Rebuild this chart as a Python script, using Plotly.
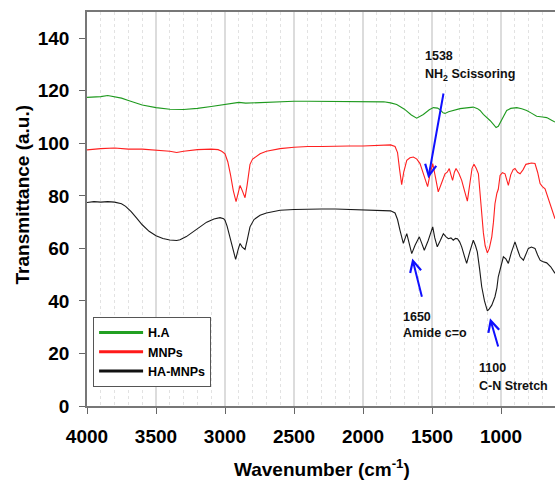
import plotly.graph_objects as go

# ---------------- data ----------------
ha_wn = [4000, 3950, 3900, 3850, 3800, 3750, 3700, 3650, 3600, 3500, 3400, 3300, 3200, 3100, 3000, 2950,
         2900, 2850, 2800, 2700, 2600, 2500, 2400, 2300, 2200, 2100, 2000, 1900, 1850, 1800, 1756, 1700,
         1650, 1611, 1563, 1520, 1490, 1460, 1442, 1420, 1406, 1380, 1357, 1330, 1297, 1250, 1201, 1170,
         1152, 1128, 1100, 1080, 1055, 1036, 1020, 1007, 985, 959, 930, 886, 850, 814, 780, 742, 700, 669,
         640, 609]
ha_t = [117.5, 117.6, 117.8, 118.2, 117.8, 117.2, 116.3, 115.4, 114.6, 113.6, 113.0, 112.9, 113.3, 114.0,
        114.8, 115.0, 115.6, 115.3, 115.4, 115.7, 115.8, 116.0, 116.0, 116.0, 116.0, 116.0, 115.9, 116.0,
        115.8, 115.4, 114.8, 113.0, 110.8, 109.6, 111.0, 112.8, 113.6, 113.4, 112.8, 111.6, 111.4, 112.0,
        112.3, 112.8, 113.2, 113.5, 113.8, 113.2, 112.5, 111.0, 109.8, 108.7, 107.2, 106.0, 106.5, 107.8,
        110.0, 112.5, 113.3, 113.6, 113.2, 112.5, 111.5, 110.3, 110.0, 109.8, 109.0, 108.1]

mnp_wn = [4000, 3950, 3900, 3800, 3700, 3600, 3500, 3400, 3350, 3300, 3200, 3100, 3050, 3024, 3000, 2980,
          2960, 2940, 2920, 2905, 2891, 2875, 2855, 2840, 2819, 2800, 2746, 2700, 2601, 2500, 2400, 2300,
          2200, 2100, 2000, 1900, 1800, 1768, 1750, 1735, 1720, 1705, 1683, 1660, 1635, 1610, 1587, 1560,
          1532, 1515, 1495, 1475, 1455, 1430, 1406, 1390, 1375, 1363, 1351, 1338, 1326, 1305, 1285, 1265,
          1244, 1225, 1210, 1196, 1180, 1164, 1152, 1140, 1128, 1115, 1099, 1085, 1067, 1055, 1044, 1030,
          1020, 1007, 990, 971, 958, 947, 930, 912, 899, 880, 862, 840, 820, 802, 780, 754, 735, 717, 700,
          681, 665, 645, 625, 609]
mnp_t = [97.5, 97.8, 98.0, 98.2, 97.8, 97.8, 97.4, 97.0, 96.5, 97.0, 97.6, 97.8, 97.6, 97.0, 96.0, 93.0,
         88.0, 82.0, 77.8, 81.0, 84.0, 82.0, 79.3, 84.0, 92.0, 94.0, 96.0, 97.0, 98.0, 98.5, 98.8, 98.8,
         99.0, 99.0, 99.0, 99.2, 99.4, 98.8, 96.5, 90.0, 84.3, 89.0, 93.5, 94.5, 94.8, 94.0, 92.3, 88.0,
         83.5, 88.0, 92.3, 87.0, 81.5, 85.0, 88.4, 89.0, 90.4, 88.0, 85.9, 89.0, 90.4, 88.5, 85.9, 82.0,
         78.0, 85.0, 90.5, 92.0, 90.5, 88.4, 80.0, 72.0, 66.0, 61.0, 58.3, 60.0, 64.4, 70.0, 77.0, 81.0,
         82.5, 87.8, 88.8, 88.4, 86.0, 84.0, 88.0, 90.0, 90.4, 89.0, 88.4, 90.0, 92.0, 92.3, 92.5, 92.3,
         89.0, 84.7, 83.5, 82.7, 80.0, 77.0, 74.0, 71.3]

hamnp_wn = [4000, 3950, 3900, 3850, 3800, 3750, 3720, 3680, 3640, 3600, 3550, 3500, 3450, 3400, 3350, 3326,
            3280, 3230, 3180, 3133, 3080, 3036, 3010, 3000, 2985, 2964, 2945, 2923, 2905, 2891, 2875, 2855,
            2840, 2819, 2790, 2746, 2700, 2601, 2500, 2400, 2300, 2200, 2100, 2000, 1900, 1800, 1768, 1750,
            1732, 1708, 1683, 1660, 1647, 1623, 1592, 1575, 1556, 1527, 1510, 1495, 1480, 1462, 1440, 1418,
            1400, 1382, 1363, 1346, 1330, 1316, 1300, 1285, 1265, 1249, 1225, 1201, 1185, 1172, 1155, 1140,
            1120, 1099, 1085, 1067, 1044, 1030, 1020, 1000, 983, 965, 947, 925, 899, 880, 862, 838, 820, 802,
            780, 754, 735, 717, 700, 669, 640, 621, 609]
hamnp_t = [77.5, 77.8, 77.6, 77.8, 77.6, 77.0, 76.0, 74.0, 71.5, 69.0, 66.5, 64.8, 63.8, 63.2, 63.0, 63.3,
           64.5, 66.3, 68.2, 70.0, 71.2, 71.7, 71.3, 70.7, 68.5, 64.4, 60.0, 55.8, 59.5, 61.9, 60.5, 59.6,
           63.0, 68.2, 71.0, 72.6, 73.5, 74.5, 74.8, 75.0, 75.0, 75.0, 74.8, 74.6, 74.5, 74.3, 73.5, 71.0,
           66.9, 61.9, 65.6, 61.0, 58.0, 61.2, 64.4, 62.0, 59.3, 63.1, 66.0, 68.2, 64.0, 60.6, 63.0, 65.6,
           64.5, 63.7, 64.0, 63.1, 63.8, 63.7, 62.5, 60.6, 57.0, 54.3, 59.0, 63.1, 61.0, 58.7, 52.0, 45.4,
           40.0, 36.2, 37.0, 38.4, 41.6, 45.0, 49.2, 54.0, 56.8, 56.0, 54.3, 58.5, 62.5, 59.5, 56.8, 55.5,
           58.0, 60.0, 60.5, 60.0, 57.5, 55.5, 55.0, 54.5, 53.0, 51.7, 50.5]

series_names = ["H.A", "MNPs", "HA-MNPs"]
y_ticks = [0, 20, 40, 60, 80, 100, 120, 140]
x_ticks = [4000, 3500, 3000, 2500, 2000, 1500, 1000]
x_title = "Wavenumber (cm<sup>-1</sup>)"
y_title = "Transmittance (a.u.)"

# peak annotations
peak_labels = ["1538", "1650", "1100"]
peak_desc = ["NH<sub>2</sub> Scissoring", "Amide c=o", "C-N Stretch"]
head_wn = [1527, 1643, 1080]
head_t = [86.7, 56.2, 33.4]
tail_wn = [1406, 1558, 1003]
tail_t = [122.2, 38.4, 19.4]
text_wn = [1562, 1727, 1172]
text_t1 = [133.2, 34.0, 14.5]
text_t2 = [126.2, 27.8, 7.8]

# ---------------- figure ----------------
FONT = "Arial, Liberation Sans, sans-serif"
fig = go.Figure()
colors = ["#1f9a1f", "#ff2020", "#1a1a1a"]
for name, wn, t, c in zip(series_names, [ha_wn, mnp_wn, hamnp_wn], [ha_t, mnp_t, hamnp_t], colors):
    fig.add_trace(go.Scatter(x=wn, y=t, mode="lines", name=name, showlegend=False,
                             legendgroup=name, line=dict(color=c, width=1.1)))
# legend entries drawn with thicker line samples, as in the reference
for name, c in zip(series_names, ["#22a022", "#ff1a1a", "#111111"]):
    fig.add_trace(go.Scatter(x=[None], y=[None], mode="lines", name=name, legendgroup=name,
                             line=dict(color=c, width=3)))

for i in range(len(peak_labels)):
    fig.add_annotation(x=head_wn[i], y=head_t[i], ax=tail_wn[i], ay=tail_t[i],
                       xref="x", yref="y", axref="x", ayref="y", text=" ",
                       showarrow=True, arrowhead=5, arrowsize=1.1, arrowwidth=2,
                       arrowcolor="#1010ff", standoff=0)
    fig.add_annotation(x=text_wn[i], y=text_t1[i], xref="x", yref="y", text=peak_labels[i],
                       showarrow=False, xanchor="left", yanchor="middle",
                       font=dict(family=FONT, size=12.5, color="#111111", weight="bold"))
    fig.add_annotation(x=text_wn[i], y=text_t2[i], xref="x", yref="y", text=peak_desc[i],
                       showarrow=False, xanchor="left", yanchor="middle",
                       font=dict(family=FONT, size=12.5, color="#111111", weight="bold"))

# axis titles
fig.add_annotation(x=0.502, y=-0.158, xref="paper", yref="paper", text=x_title, showarrow=False,
                   xanchor="center", yanchor="middle",
                   font=dict(family=FONT, size=19, color="black", weight="bold"))
fig.add_annotation(x=-0.138, y=0.538, xref="paper", yref="paper", text=y_title, showarrow=False,
                   textangle=-90, xanchor="center", yanchor="middle",
                   font=dict(family=FONT, size=19, color="black", weight="bold"))

fig.update_layout(
    width=555, height=483,
    margin=dict(l=87, r=0, t=12, b=77),
    paper_bgcolor="white", plot_bgcolor="white",
    font=dict(family=FONT, color="black"),
    showlegend=True,
    legend=dict(x=0.013, y=0.226, xanchor="left", yanchor="top",
                bgcolor="white", bordercolor="#555555", borderwidth=1,
                font=dict(family=FONT, size=12.5, color="black", weight="bold"),
                tracegroupgap=0, itemwidth=44),
    xaxis=dict(range=[4000, 609], tickvals=x_ticks, ticks="outside", ticklen=6,
               tickcolor="#666666", showline=True, linecolor="#777777", linewidth=1.5,
               mirror=True, showgrid=True, gridcolor="#dcdcdc", gridwidth=1.5,
               minor=dict(dtick=100, showgrid=True, gridcolor="#e2e2e2", griddash="dot",
                          gridwidth=1),
               tickfont=dict(family=FONT, size=19, color="black", weight="bold"),
               ticklabelstandoff=6, zeroline=False, automargin=False),
    yaxis=dict(range=[0, 150], tickvals=y_ticks, ticks="outside", ticklen=6,
               tickcolor="#666666", showline=True, linecolor="#777777", linewidth=1.5,
               showgrid=False, zeroline=False, automargin=False,
               tickfont=dict(family=FONT, size=19, color="black", weight="bold"),
               ticklabelstandoff=6),
)

fig.write_html("out.html", config={"displayModeBar": False},
               post_script="document.body.style.margin='0';document.body.style.overflow='hidden';")
